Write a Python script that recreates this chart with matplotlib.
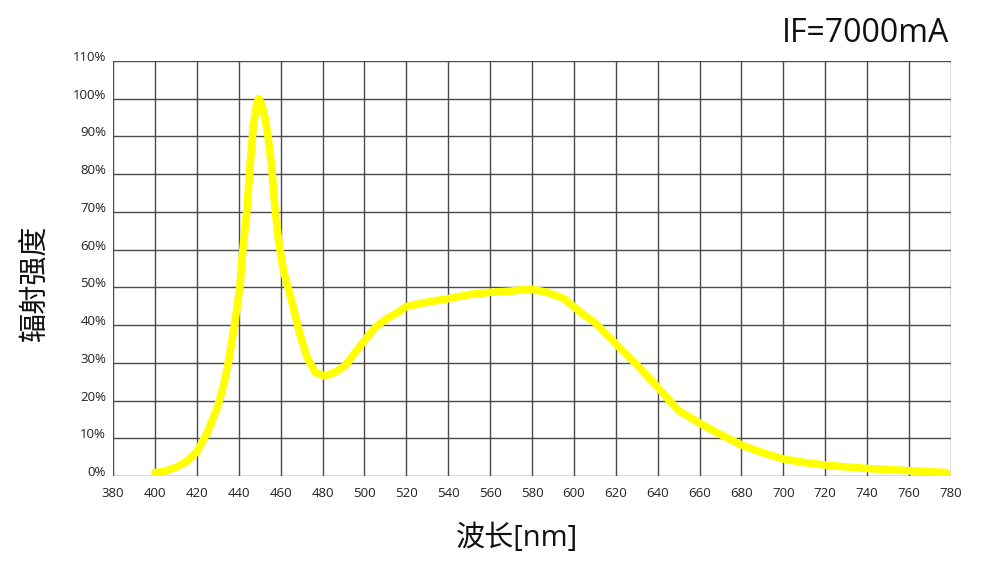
import matplotlib
matplotlib.use("Agg")
import matplotlib.pyplot as plt
import matplotlib.transforms as mtransforms
import numpy as np

plt.rcParams['font.family'] = ['Open Sans', 'Noto Sans CJK SC', 'DejaVu Sans']

wavelength = [400, 405, 410, 415, 420, 425, 430, 433, 435, 438, 440.5, 442, 444, 445.5, 447,
              448.5, 449.5, 451, 452.5, 454, 455.7, 457.3, 459, 461.3, 465, 469, 472.5, 476.5, 481, 486,
              491, 498, 505, 510, 515, 520, 530, 540, 550, 560, 570, 579, 587, 595, 605, 610,
              620, 630, 640, 650, 660, 670, 680, 690, 700, 710, 720, 730, 740, 750, 760, 770, 778]
intensity = [0.9, 1.3, 2.3, 3.8, 6.4, 11.5, 18.5, 24.5, 30, 40, 50, 60, 71, 83, 93,
             98.5, 100, 98.5, 95, 90, 82, 71, 62.5, 54.6, 47, 38, 31.6, 27.5, 26.5, 27.5,
             29.4, 34.5, 39.3, 41.5, 43.1, 44.9, 46.1, 47.0, 48.1, 48.7, 49.0, 49.6, 48.7, 47.1, 42.6, 40.7,
             35, 29.5, 23.5, 17.3, 14, 11, 8.2, 6.2, 4.5, 3.6, 2.9, 2.4, 2.0, 1.7, 1.4, 1.15, 0.9]

x_ticks = list(range(380, 781, 20))
y_ticks = list(range(0, 111, 10))
y_tick_labels = [f"{v}%" for v in y_ticks]

fig = plt.figure(figsize=(9.96, 5.64), dpi=100)
ax = fig.add_axes([0.1135, 0.156, 0.8413, 0.7358])

ax.set_xlim(380, 780)
ax.set_ylim(0, 110)
ax.set_xticks(x_ticks)
ax.set_yticks(y_ticks)
ax.set_yticklabels(y_tick_labels)
ax.tick_params(length=0, labelsize=9.5, colors='#222222')
ax.tick_params(axis='y', pad=5)
ax.tick_params(axis='x', pad=8)
offset = mtransforms.ScaledTranslation(0, 5 / 100, fig.dpi_scale_trans)
for lab in ax.get_yticklabels():
    lab.set_transform(lab.get_transform() + offset)
ax.grid(True, color='#4a4a4a', linewidth=1.0)
ax.set_axisbelow(True)
for s in ax.spines.values():
    s.set_visible(False)

ax.plot(wavelength, intensity, color='#ffff00', linewidth=5.5,
        solid_capstyle='round', solid_joinstyle='round', zorder=3)

fig.text(0.519, 1 - 538 / 564, '波长[nm]', ha='center', va='center', fontsize=21, color='#111111')
fig.text(35 / 996, 1 - 283 / 564, '辐射强度', ha='center', va='center', rotation=90,
         fontsize=21, color='#111111')
fig.text(0.953, 1 - 34 / 564, 'IF=7000mA', ha='right', va='center', fontsize=23, color='#111111')

fig.savefig('out.png', dpi=100)
